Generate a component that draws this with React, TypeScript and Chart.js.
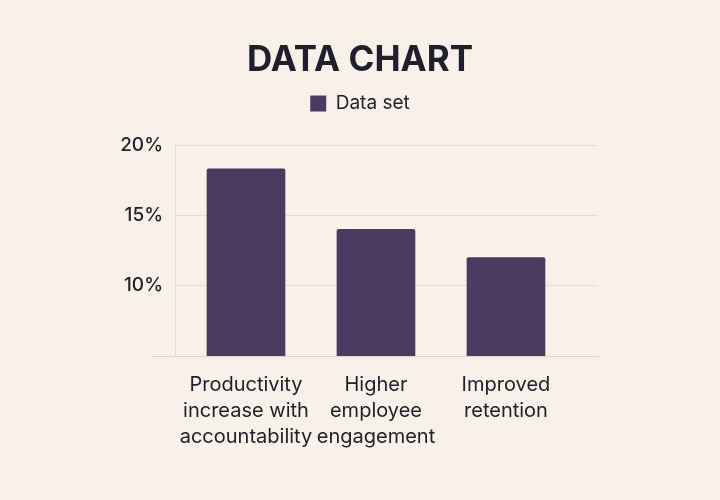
import { useEffect, useRef } from "react";
import { Chart, registerables, ChartConfiguration } from "chart.js";

Chart.register(...registerables);

const categories: string[][] = [
  ["Productivity", "increase with", "accountability"],
  ["Higher", "employee", "engagement"],
  ["Improved", "retention"],
];
const values = [18.3, 14.0, 12.0];
const yTicks = [5, 10, 15, 20];

const BAR = "#4d3a62";
const GRID = "#e2dad3";
const TEXT = "#232129";
const FONT = "Inter, 'Noto Sans', sans-serif";

// extra room under the legend
const legendGap = {
  id: "legendGap",
  beforeInit(chart: any) {
    const fit = chart.legend.fit;
    chart.legend.fit = function () {
      fit.call(this);
      this.height += 22;
    };
  },
};

const App = () => {
  const canvasRef = useRef<HTMLCanvasElement>(null);

  useEffect(() => {
    document.body.style.margin = "0";
    document.body.style.background = "#f8f1ea";
    if (!canvasRef.current) return;
    const ctx = canvasRef.current.getContext("2d");
    if (!ctx) return;

    const config: ChartConfiguration<"bar"> = {
      type: "bar",
      data: {
        datasets: [
          {
            label: "Data set",
            data: values.map((v, i) => ({ x: i, y: v })) as any,
            backgroundColor: BAR,
            borderWidth: 0,
            borderRadius: 2,
            barThickness: 78,
          },
        ],
      },
      plugins: [legendGap],
      options: {
        responsive: false,
        animation: false,
        layout: { padding: { top: 39, right: 0, bottom: 42, left: 0 } },
        plugins: {
          title: {
            display: true,
            text: "DATA CHART",
            color: "#1f1f2e",
            font: { family: FONT, size: 35, weight: "bold" },
            padding: { top: 0, bottom: 2 },
          },
          legend: {
            labels: {
              color: TEXT,
              font: { family: FONT, size: 19 },
              boxWidth: 16,
              boxHeight: 16,
              padding: 11,
            },
          },
          tooltip: { enabled: false },
        },
        scales: {
          x: {
            type: "linear",
            offset: false,
            min: -0.546,
            max: 2.708,
            grid: { display: false },
            border: { display: true, color: "#d8d0c9" },
            afterBuildTicks: (scale: any) => {
              scale.ticks = categories.map((_, i) => ({ value: i }));
            },
            ticks: {
              autoSkip: false,
              maxRotation: 0,
              color: TEXT,
              padding: 8,
              font: { family: FONT, size: 20, lineHeight: 1.3 },
              callback: (v: any) => categories[v as number] ?? "",
            },
          },
          y: {
            min: 5,
            max: 20,
            afterBuildTicks: (scale: any) => {
              scale.ticks = yTicks.map((v) => ({ value: v }));
            },
            afterFit: (scale: any) => {
              scale.width = 175;
            },
            grid: {
              color: GRID,
              tickLength: 23,
              tickColor: (c: any) => (c.tick && c.tick.value === 5 ? "#d8d0c9" : "rgba(0,0,0,0)"),
            },
            border: { display: true, color: GRID },
            ticks: {
              color: TEXT,
              padding: -11,
              font: { family: FONT, size: 19, weight: 500 },
              callback: (v: any) => (v === 5 ? "" : v + "%"),
            },
          },
          // empty right-hand axis: keeps the plot narrow while title and legend stay centred on the page
          yRight: {
            position: "right",
            display: true,
            grid: { display: false },
            border: { display: false },
            ticks: { display: false },
            afterFit: (scale: any) => {
              scale.width = 122;
            },
          },
        },
      },
    };

    const chart = new Chart(ctx, config);
    return () => {
      chart.destroy();
    };
  }, []);

  return <canvas ref={canvasRef} width={720} height={500} style={{ display: "block" }} />;
};

export default App;
